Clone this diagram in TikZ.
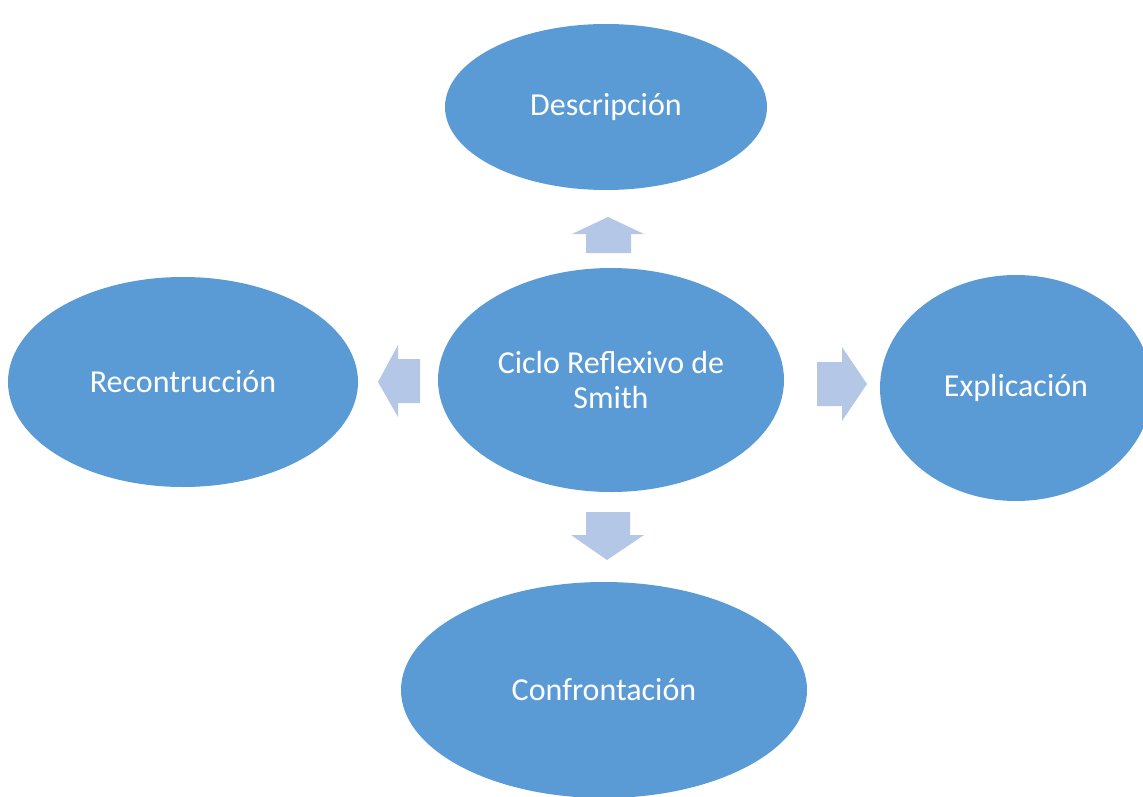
\documentclass[tikz,border=0pt]{standalone}
\usepackage{fontspec}
\setmainfont{Carlito}
\usetikzlibrary{shapes.geometric}
\definecolor{ellblue}{HTML}{5B9BD5}
\definecolor{arrblue}{HTML}{B4C7E7}
\tikzset{
  bubble/.style={ellipse, fill=ellblue, draw=none, inner sep=0pt, text=white,
    font=\fontsize{32}{35}\selectfont, align=center},
  blockarrow/.style={fill=arrblue, draw=none}
}
\begin{document}
\begin{tikzpicture}[x=1pt,y=-1pt]
\useasboundingbox (0,0) rectangle (1143,797);
\clip (0,0) rectangle (1143,797);
\node[bubble, minimum width=322pt, minimum height=166pt] (desc) at (606,107) {Descripción};
\node[bubble, minimum width=346pt, minimum height=224pt] (center) at (611,380) {Ciclo Reflexivo de\\Smith};
\node[bubble, minimum width=350pt, minimum height=210pt] (recon) at (183,382) {Recontrucción};
\node[bubble, minimum width=272pt, minimum height=226pt] (expl) at (1016,388) {Explicación};
\node[bubble, minimum width=406pt, minimum height=216pt] (conf) at (604,690) {Confrontación};
% up arrow
\fill[blockarrow] (586,253) -- (586,234) -- (572,234) -- (608,217) -- (644,234) -- (631,234) -- (631,253) -- cycle;
% right arrow
\fill[blockarrow] (817,362) -- (842,362) -- (842,347) -- (867,384) -- (842,421) -- (842,406) -- (817,406) -- cycle;
% left arrow
\fill[blockarrow] (420,359) -- (398,359) -- (398,345) -- (378,382) -- (398,417) -- (398,403) -- (420,403) -- cycle;
% down arrow
\fill[blockarrow] (586,512) -- (630,512) -- (630,535) -- (644,535) -- (607,560) -- (571,535) -- (586,535) -- cycle;
\end{tikzpicture}
\end{document}
